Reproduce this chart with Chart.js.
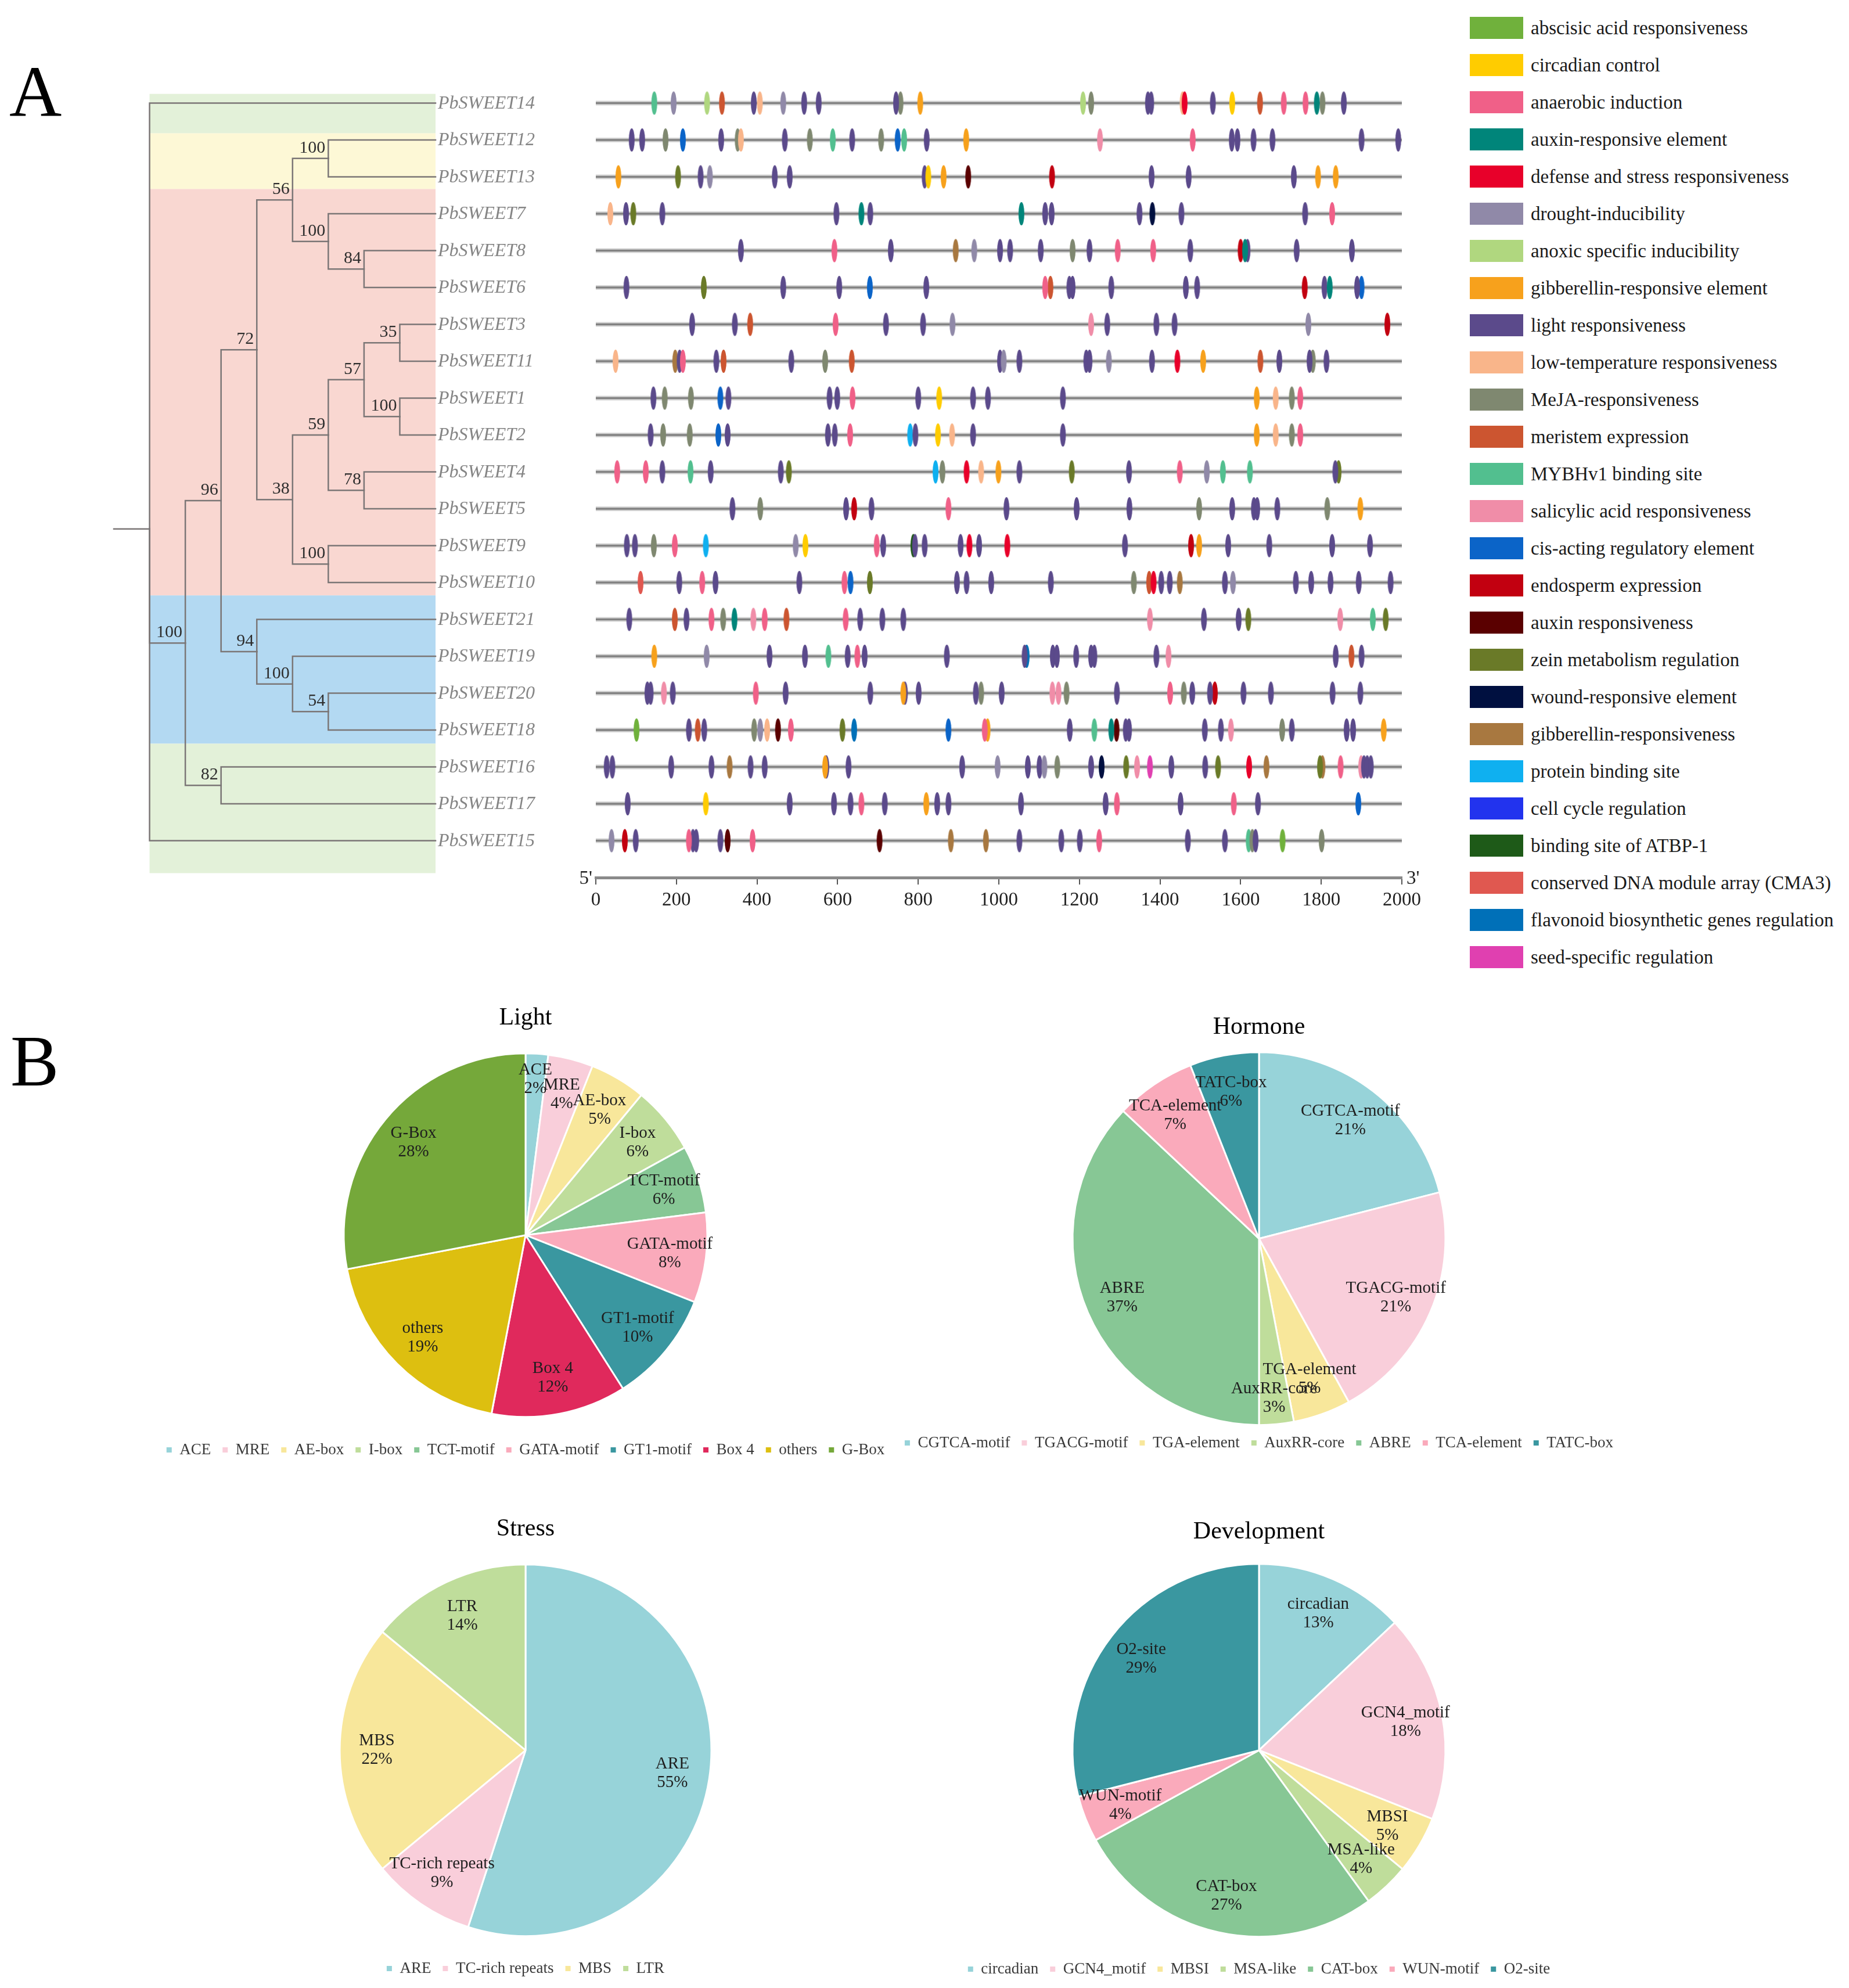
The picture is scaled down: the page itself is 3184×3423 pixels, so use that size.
<!DOCTYPE html>
<html>
<head>
<meta charset="utf-8">
<script src="https://cdn.jsdelivr.net/npm/chart.js@4.4.1/dist/chart.umd.min.js"></script>
<style>
  html, body { margin: 0; padding: 0; background: #fff; }
  #page { position: relative; width: 3184px; height: 3423px; overflow: hidden; background: #fff;
          font-family: "Liberation Serif", "Times New Roman", serif; }
  canvas { position: absolute; }
  .panel { position: absolute; font-size: 125px; line-height: 125px; color: #000; }
  .li { position: absolute; left: 2531px; height: 38px; display: flex; align-items: center; }
  .sw { width: 92px; height: 38px; margin-right: 13px; flex: none; }
  .lt { font-size: 33px; color: #1a1a1a; white-space: nowrap; }
</style>
</head>
<body>
<div id="page">
  <div class="panel" style="left:16px;top:96px">A</div>
  <div class="panel" style="left:18px;top:1765px">B</div>
  <canvas id="tree" width="800" height="1517"></canvas>
  <canvas id="motif" width="1508" height="1517"></canvas>
  <div id="motifLegend"></div>
  <canvas id="pieLight"></canvas>
  <canvas id="pieHormone"></canvas>
  <canvas id="pieStress"></canvas>
  <canvas id="pieDev"></canvas>
</div>
<script>
const SERIF = "Liberation Serif";
Chart.defaults.font.family = SERIF;

// ---- tree (newick with bootstrap values) ----
const treeNewick = "(PbSWEET14,(((((PbSWEET12,PbSWEET13)100,(PbSWEET7,(PbSWEET8,PbSWEET6)84)100)56," +
  "((((PbSWEET3,PbSWEET11)35,(PbSWEET1,PbSWEET2)100)57,(PbSWEET4,PbSWEET5)78)59,(PbSWEET9,PbSWEET10)100)38)72," +
  "(PbSWEET21,(PbSWEET19,(PbSWEET20,PbSWEET18)54)100)94)96,(PbSWEET16,PbSWEET17)82)100,PbSWEET15);";

// ---- motif legend ----
const motifKeys = ["ABA","CIR","ANA","AUXE","DEF","DRO","ANO","GAE","LIG","LTR","MEJA","MER","MYB","SAL",
  "CIS","END","AUX","ZEIN","WOU","GAR","PRO","CCR","ATB","CMA","FLA","SEED"];
const motifNames = ["abscisic acid responsiveness","circadian control","anaerobic induction","auxin-responsive element",
  "defense and stress responsiveness","drought-inducibility","anoxic specific inducibility","gibberellin-responsive element",
  "light responsiveness","low-temperature responsiveness","MeJA-responsiveness","meristem expression","MYBHv1 binding site",
  "salicylic acid responsiveness","cis-acting regulatory element","endosperm expression","auxin responsiveness",
  "zein metabolism regulation","wound-responsive element","gibberellin-responsiveness","protein binding site",
  "cell cycle regulation","binding site of ATBP-1","conserved DNA module array (CMA3)",
  "flavonoid biosynthetic genes regulation","seed-specific regulation"];
const motifColors = ["#70B13C","#FFCC00","#F06088","#00857A","#E8002A","#9089A8","#B0D77F","#F7A11C","#5B4A8B",
  "#F9B58A","#7F8870","#CC5530","#52BF8F","#F08DA8","#0B64C8","#C20010","#5A0000","#6A7A28","#001040","#A87840",
  "#0FB0F0","#2233EE","#1E5A18","#E05850","#0070B8","#E040B0"];

// ---- motif positions per gene (bp from 5' end) ----
const seqLength = 2000;
const sweet14 = [[145,"MYB"],[193,"DRO"],[276,"ANO"],[313,"MER"],[392,"LIG"],[407,"LTR"],[465,"DRO"],[517,"LIG"],[553,"LIG"],[745,"LIG"],[756,"MEJA"],[805,"GAE"],[1209,"ANO"],[1229,"MEJA"],[1370,"LIG"],[1378,"LIG"],[1461,"DEF"],[1456,"LTR"],[1531,"LIG"],[1579,"CIR"],[1648,"MER"],[1707,"ANA"],[1761,"ANA"],[1789,"AUXE"],[1803,"MEJA"],[1856,"LIG"]];
const sweet12 = [[89,"LIG"],[115,"LIG"],[173,"MEJA"],[216,"CIS"],[311,"LIG"],[352,"MEJA"],[360,"LTR"],[469,"LIG"],[531,"MEJA"],[588,"MYB"],[636,"LIG"],[708,"MEJA"],[749,"CIS"],[765,"MYB"],[821,"LIG"],[919,"GAE"],[1251,"SAL"],[1481,"ANA"],[1578,"LIG"],[1592,"LIG"],[1632,"LIG"],[1679,"LIG"],[1900,"LIG"],[1991,"LIG"]];
const sweet13 = [[56,"GAE"],[204,"ZEIN"],[260,"LIG"],[283,"DRO"],[444,"LIG"],[481,"LIG"],[816,"LIG"],[825,"CIR"],[863,"GAE"],[924,"AUX"],[1132,"END"],[1379,"LIG"],[1471,"LIG"],[1732,"LIG"],[1792,"GAE"],[1836,"GAE"]];
const sweet7 = [[36,"LTR"],[75,"LIG"],[93,"ZEIN"],[165,"LIG"],[597,"LIG"],[659,"AUXE"],[681,"LIG"],[1056,"AUXE"],[1115,"LIG"],[1131,"LIG"],[1349,"LIG"],[1381,"WOU"],[1453,"LIG"],[1760,"LIG"],[1827,"ANA"]];
const sweet8 = [[360,"LIG"],[592,"ANA"],[732,"LIG"],[893,"GAR"],[939,"DRO"],[1003,"LIG"],[1028,"LIG"],[1104,"LIG"],[1183,"MEJA"],[1225,"LIG"],[1295,"ANA"],[1383,"ANA"],[1475,"LIG"],[1600,"END"],[1611,"AUXE"],[1617,"LIG"],[1739,"LIG"],[1876,"LIG"]];
const sweet6 = [[76,"LIG"],[268,"ZEIN"],[465,"LIG"],[604,"LIG"],[680,"CIS"],[820,"LIG"],[1115,"ANA"],[1128,"MER"],[1175,"LIG"],[1183,"LIG"],[1279,"LIG"],[1464,"LIG"],[1492,"LIG"],[1759,"END"],[1808,"LIG"],[1821,"AUXE"],[1889,"LIG"],[1900,"CIS"]];
const sweet3 = [[239,"LIG"],[345,"LIG"],[383,"MER"],[595,"ANA"],[720,"LIG"],[812,"LIG"],[885,"DRO"],[1229,"SAL"],[1269,"LIG"],[1391,"LIG"],[1436,"LIG"],[1768,"DRO"],[1964,"END"]];
const sweet11 = [[49,"LTR"],[197,"GAR"],[208,"LIG"],[216,"ANA"],[299,"LIG"],[317,"MER"],[485,"LIG"],[569,"MEJA"],[635,"MER"],[1003,"LIG"],[1012,"DRO"],[1051,"LIG"],[1217,"LIG"],[1225,"LIG"],[1273,"DRO"],[1380,"LIG"],[1443,"DEF"],[1507,"GAE"],[1649,"MER"],[1696,"LIG"],[1771,"LIG"],[1779,"MEJA"],[1813,"LIG"]];
const sweet1 = [[143,"LIG"],[171,"MEJA"],[236,"MEJA"],[309,"CIS"],[329,"LIG"],[580,"LIG"],[599,"LIG"],[637,"ANA"],[800,"LIG"],[852,"CIR"],[936,"LIG"],[973,"LIG"],[1159,"LIG"],[1640,"GAE"],[1687,"LTR"],[1727,"MEJA"],[1748,"ANA"]];
const sweet2 = [[136,"LIG"],[167,"MEJA"],[233,"MEJA"],[304,"CIS"],[327,"LIG"],[576,"LIG"],[593,"LIG"],[631,"ANA"],[780,"PRO"],[793,"LIG"],[849,"CIR"],[884,"LTR"],[936,"LIG"],[1159,"LIG"],[1640,"GAE"],[1687,"LTR"],[1727,"MEJA"],[1748,"ANA"]];
const sweet4 = [[53,"ANA"],[124,"ANA"],[165,"LIG"],[235,"MYB"],[285,"LIG"],[459,"LIG"],[479,"ZEIN"],[843,"PRO"],[860,"MEJA"],[920,"DEF"],[956,"LTR"],[999,"GAE"],[1051,"LIG"],[1181,"ZEIN"],[1323,"LIG"],[1449,"ANA"],[1516,"DRO"],[1556,"MYB"],[1623,"MYB"],[1835,"LIG"],[1843,"ZEIN"]];
const sweet5 = [[339,"LIG"],[408,"MEJA"],[621,"LIG"],[641,"END"],[684,"LIG"],[875,"ANA"],[1019,"LIG"],[1193,"LIG"],[1324,"LIG"],[1497,"MEJA"],[1579,"LIG"],[1633,"LIG"],[1641,"LIG"],[1691,"LIG"],[1815,"MEJA"],[1897,"GAE"]];
const sweet9 = [[77,"LIG"],[97,"LIG"],[144,"MEJA"],[196,"ANA"],[273,"PRO"],[496,"DRO"],[520,"CIR"],[697,"ANA"],[713,"LIG"],[788,"ATB"],[792,"LIG"],[816,"LIG"],[905,"LIG"],[927,"DEF"],[951,"LIG"],[1021,"DEF"],[1313,"LIG"],[1477,"END"],[1497,"GAE"],[1569,"LIG"],[1671,"LIG"],[1827,"LIG"],[1921,"LIG"]];
const sweet10 = [[111,"CMA"],[207,"LIG"],[264,"ANA"],[297,"LIG"],[505,"LIG"],[617,"ANA"],[632,"CIS"],[680,"ZEIN"],[896,"LIG"],[920,"LIG"],[981,"LIG"],[1129,"LIG"],[1335,"MEJA"],[1373,"MER"],[1384,"DEF"],[1403,"LIG"],[1424,"LIG"],[1449,"GAR"],[1561,"LIG"],[1581,"DRO"],[1737,"LIG"],[1775,"LIG"],[1823,"LIG"],[1893,"LIG"],[1972,"LIG"]];
const sweet21 = [[83,"LIG"],[196,"MER"],[225,"LIG"],[287,"ANA"],[316,"MEJA"],[344,"AUXE"],[391,"SAL"],[419,"ANA"],[473,"MER"],[620,"ANA"],[656,"LIG"],[711,"LIG"],[763,"LIG"],[1375,"SAL"],[1509,"LIG"],[1595,"LIG"],[1619,"ZEIN"],[1847,"SAL"],[1928,"MYB"],[1960,"ZEIN"]];
const sweet19 = [[145,"GAE"],[275,"DRO"],[431,"LIG"],[519,"LIG"],[577,"MYB"],[625,"LIG"],[649,"ANA"],[667,"LIG"],[871,"LIG"],[1064,"LIG"],[1069,"FLA"],[1134,"LIG"],[1144,"LIG"],[1192,"LIG"],[1229,"LIG"],[1237,"LIG"],[1391,"LIG"],[1421,"SAL"],[1836,"LIG"],[1875,"MER"],[1900,"LIG"]];
const sweet20 = [[128,"LIG"],[136,"LIG"],[169,"SAL"],[191,"LIG"],[397,"ANA"],[471,"LIG"],[681,"LIG"],[763,"GAE"],[767,"LIG"],[801,"LIG"],[943,"LIG"],[956,"MEJA"],[1007,"LIG"],[1133,"SAL"],[1148,"SAL"],[1168,"MEJA"],[1293,"LIG"],[1425,"ANA"],[1459,"MEJA"],[1480,"LIG"],[1524,"LIG"],[1536,"END"],[1607,"LIG"],[1675,"LIG"],[1828,"LIG"],[1897,"LIG"]];
const sweet18 = [[101,"ABA"],[231,"LIG"],[253,"MER"],[269,"LIG"],[393,"MEJA"],[408,"DRO"],[425,"LTR"],[452,"AUX"],[484,"ANA"],[612,"ZEIN"],[641,"FLA"],[875,"CIS"],[965,"ANA"],[972,"GAE"],[1176,"LIG"],[1237,"MYB"],[1279,"AUXE"],[1292,"AUX"],[1315,"LIG"],[1323,"LIG"],[1511,"LIG"],[1551,"LIG"],[1576,"SAL"],[1703,"MEJA"],[1727,"LIG"],[1863,"LIG"],[1879,"LIG"],[1955,"GAE"]];
const sweet16 = [[27,"LIG"],[41,"LIG"],[187,"LIG"],[287,"LIG"],[332,"GAR"],[384,"LIG"],[419,"LIG"],[569,"GAE"],[572,"LIG"],[627,"LIG"],[909,"LIG"],[997,"DRO"],[1072,"LIG"],[1101,"LIG"],[1113,"DRO"],[1145,"MEJA"],[1229,"LIG"],[1255,"WOU"],[1316,"ZEIN"],[1343,"SAL"],[1375,"SEED"],[1428,"LIG"],[1512,"LIG"],[1544,"ZEIN"],[1621,"DEF"],[1664,"GAR"],[1797,"ZEIN"],[1803,"GAR"],[1848,"ANA"],[1899,"SAL"],[1906,"LIG"],[1914,"LIG"],[1923,"LIG"]];
const sweet17 = [[79,"LIG"],[273,"CIR"],[481,"LIG"],[591,"LIG"],[632,"LIG"],[659,"ANA"],[717,"LIG"],[820,"GAE"],[847,"LIG"],[875,"LIG"],[1055,"LIG"],[1265,"LIG"],[1293,"ANA"],[1451,"LIG"],[1583,"ANA"],[1643,"LIG"],[1892,"CIS"]];
const sweet15 = [[39,"DRO"],[72,"END"],[99,"LIG"],[231,"ANA"],[241,"LIG"],[249,"LIG"],[309,"LIG"],[327,"AUX"],[389,"ANA"],[704,"AUX"],[881,"GAR"],[968,"GAR"],[1051,"LIG"],[1155,"LIG"],[1201,"LIG"],[1249,"ANA"],[1469,"LIG"],[1561,"LIG"],[1620,"MYB"],[1629,"MEJA"],[1637,"LIG"],[1704,"ABA"],[1801,"MEJA"]];
const motifSites = {
  PbSWEET14: sweet14, PbSWEET12: sweet12, PbSWEET13: sweet13, PbSWEET7: sweet7, PbSWEET8: sweet8, PbSWEET6: sweet6,
  PbSWEET3: sweet3, PbSWEET11: sweet11, PbSWEET1: sweet1, PbSWEET2: sweet2, PbSWEET4: sweet4, PbSWEET5: sweet5,
  PbSWEET9: sweet9, PbSWEET10: sweet10, PbSWEET21: sweet21, PbSWEET19: sweet19, PbSWEET20: sweet20,
  PbSWEET18: sweet18, PbSWEET16: sweet16, PbSWEET17: sweet17, PbSWEET15: sweet15
};
const axisTicks = [0, 200, 400, 600, 800, 1000, 1200, 1400, 1600, 1800, 2000];

// ---- pie data (%) ----
const lightLabels = ["ACE","MRE","AE-box","I-box","TCT-motif","GATA-motif","GT1-motif","Box 4","others","G-Box"];
const lightValues = [2, 4, 5, 6, 6, 8, 10, 12, 19, 28];
const hormoneLabels = ["CGTCA-motif","TGACG-motif","TGA-element","AuxRR-core","ABRE","TCA-element","TATC-box"];
const hormoneValues = [21, 21, 5, 3, 37, 7, 6];
const stressLabels = ["ARE","TC-rich repeats","MBS","LTR"];
const stressValues = [55, 9, 22, 14];
const devLabels = ["circadian","GCN4_motif","MBSI","MSA-like","CAT-box","WUN-motif","O2-site"];
const devValues = [13, 18, 5, 4, 27, 4, 29];

// ---- styles ----
const C = { cyan: "#97D3D9", pink: "#F9CEDA", yellow: "#F8E79B", lgreen: "#BFDD9B", green: "#87C795",
            rose: "#FAAABB", teal: "#3A97A0", crimson: "#E0295C", mustard: "#DDBF10", olive: "#75A83A" };
const lightColors = [C.cyan, C.pink, C.yellow, C.lgreen, C.green, C.rose, C.teal, C.crimson, C.mustard, C.olive];
const hormoneColors = [C.cyan, C.pink, C.yellow, C.lgreen, C.green, C.rose, C.teal];
const stressColors = [C.cyan, C.pink, C.yellow, C.lgreen];
const devColors = [C.cyan, C.pink, C.yellow, C.lgreen, C.green, C.rose, C.teal];

const ROW0_Y = 177, ROOT_X = 258, AXIS0_X = 1026;
const LEAF_LEVEL = 8;
const bandEdges = [-0.25, 0.82, 2.33, 13.35, 17.37, 20.88];
const bandColors = ["#E3F1D9", "#FDF8D6", "#F9D7D1", "#B3D9F2", "#E3F1D9"];
const TREE_COL = "#7b7676";

// ---------- tree layout ----------
function parseNewick(s) {
  let i = 0;
  function node() {
    if (s[i] === "(") {
      i++;
      const children = [node()];
      while (s[i] === ",") { i++; children.push(node()); }
      i++;
      let lab = "";
      while (i < s.length && /[0-9.]/.test(s[i])) lab += s[i++];
      return { children, support: lab ? lab : null };
    }
    let name = "";
    while (i < s.length && !/[,();]/.test(s[i])) name += s[i++];
    return { name };
  }
  return node();
}
const root = parseNewick(treeNewick);
const leaves = [];
const internals = [];
function layout(n, depth) {
  if (n.name) { n.x = LEAF_LEVEL; n.y = leaves.length; leaves.push(n); return; }
  n.children.forEach(c => layout(c, depth + 1));
  n.x = depth;
  n.y = n.children.reduce((a, c) => a + c.y, 0) / n.children.length;
  internals.push(n);
}
layout(root, 0);
root.support = null;

const treeSegs = [[{ x: -1, y: root.y }, { x: 0, y: root.y }]];
internals.forEach(n => n.children.forEach(c => {
  treeSegs.push([{ x: n.x, y: n.y }, { x: n.x, y: c.y }, { x: c.x, y: c.y }]);
}));

const treeBands = {
  id: "treeBands",
  beforeDatasetsDraw(c) {
    const { ctx, scales: { x, y } } = c;
    ctx.save();
    bandColors.forEach((col, i) => {
      const y0 = y.getPixelForValue(bandEdges[i]), y1 = y.getPixelForValue(bandEdges[i + 1]);
      ctx.fillStyle = col;
      ctx.fillRect(x.getPixelForValue(0), y0, x.getPixelForValue(LEAF_LEVEL) - x.getPixelForValue(0), y1 - y0);
    });
    ctx.restore();
  }
};
const treeText = {
  id: "treeText",
  afterDatasetsDraw(c) {
    const { ctx, scales: { x, y } } = c;
    ctx.save();
    ctx.font = "italic 32px " + SERIF;
    ctx.fillStyle = "#858585";
    ctx.textAlign = "left";
    ctx.textBaseline = "middle";
    leaves.forEach(l => ctx.fillText(l.name, x.getPixelForValue(l.x) + 4, y.getPixelForValue(l.y) + 1));
    ctx.font = "30px " + SERIF;
    ctx.fillStyle = "#2e2e2e";
    ctx.textAlign = "right";
    ctx.textBaseline = "alphabetic";
    internals.forEach(n => {
      if (n.support) ctx.fillText(n.support, x.getPixelForValue(n.x) - 5, y.getPixelForValue(n.y) - 10);
    });
    ctx.restore();
  }
};

const treeCanvas = document.getElementById("tree");
const treeChart = new Chart(treeCanvas, {
  type: "scatter",
  data: {
    datasets: treeSegs.map(d => ({
      data: d, showLine: true, borderColor: TREE_COL, borderWidth: 2.5, pointRadius: 0,
      borderCapStyle: "square", borderJoinStyle: "miter", clip: false
    }))
  },
  options: {
    responsive: false, animation: false, events: [],
    layout: { padding: { left: 10, right: 236, top: 10, bottom: 110 } },
    scales: {
      x: { type: "linear", min: -1, max: LEAF_LEVEL, display: false },
      y: { type: "linear", min: -1, max: 21, reverse: true, display: false }
    },
    plugins: { legend: { display: false }, tooltip: { enabled: false } }
  },
  plugins: [treeBands, treeText]
});
treeCanvas.style.left = (ROOT_X - treeChart.scales.x.getPixelForValue(0)) + "px";
treeCanvas.style.top = (ROW0_Y - treeChart.scales.y.getPixelForValue(0)) + "px";

// ---------- motif map ----------
function ellipseImg(color) {
  const c = document.createElement("canvas");
  c.width = 12; c.height = 42;
  const g = c.getContext("2d");
  g.fillStyle = color;
  g.beginPath();
  g.ellipse(6, 21, 5, 20, 0, 0, Math.PI * 2);
  g.fill();
  return c;
}
const motifDatasets = [];
leaves.forEach((l, i) => {
  const line = [{ x: 0, y: i }, { x: seqLength, y: i }];
  motifDatasets.push({ data: line, showLine: true, borderColor: "#d3d3d3", borderWidth: 8, pointRadius: 0, order: 3 });
  motifDatasets.push({ data: line, showLine: true, borderColor: "#828282", borderWidth: 3.5, pointRadius: 0, order: 2 });
});
motifKeys.forEach((k, t) => {
  const pts = [];
  leaves.forEach((l, i) => (motifSites[l.name] || []).forEach(([pos, key]) => {
    if (key === k) pts.push({ x: pos, y: i });
  }));
  motifDatasets.push({
    label: motifNames[t], data: pts, pointStyle: ellipseImg(motifColors[t]),
    backgroundColor: motifColors[t], borderColor: motifColors[t], order: 1, clip: false
  });
});
const primeEnds = {
  id: "primeEnds",
  afterDraw(c) {
    const { ctx, scales: { x } } = c;
    ctx.save();
    ctx.font = "33px " + SERIF;
    ctx.fillStyle = "#222";
    ctx.textBaseline = "middle";
    ctx.textAlign = "right";
    ctx.fillText("5'", x.getPixelForValue(0) - 6, x.top + 2);
    ctx.textAlign = "left";
    ctx.fillText("3'", x.getPixelForValue(seqLength) + 8, x.top + 2);
    ctx.restore();
  }
};
const motifCanvas = document.getElementById("motif");
const motifChart = new Chart(motifCanvas, {
  type: "scatter",
  data: { datasets: motifDatasets },
  options: {
    responsive: false, animation: false, events: [],
    layout: { padding: { left: 60, right: 60, top: 10, bottom: 0 } },
    scales: {
      x: {
        type: "linear", min: 0, max: seqLength, position: "bottom",
        afterFit: s => { s.height = 110; },
        afterBuildTicks: s => { s.ticks = axisTicks.map(v => ({ value: v })); },
        ticks: { font: { family: SERIF, size: 33 }, color: "#222", padding: 8, maxRotation: 0, autoSkip: false,
                 callback: v => String(v) },
        grid: { drawOnChartArea: false, drawTicks: true, tickLength: 12, color: "#555", lineWidth: 2 },
        border: { display: true, color: "#8a8a8a", width: 5 }
      },
      y: { type: "linear", min: -1, max: 21, reverse: true, display: false }
    },
    plugins: { legend: { display: false }, tooltip: { enabled: false } }
  },
  plugins: [primeEnds]
});
motifCanvas.style.left = (AXIS0_X - motifChart.scales.x.getPixelForValue(0)) + "px";
motifCanvas.style.top = (ROW0_Y - motifChart.scales.y.getPixelForValue(0)) + "px";

// HTML legend for panel A
const legendBox = document.getElementById("motifLegend");
motifNames.forEach((name, i) => {
  const d = document.createElement("div");
  d.className = "li";
  d.style.top = (48 + i * 64 - 19) + "px";
  d.innerHTML = '<div class="sw" style="background:' + motifColors[i] + '"></div><span class="lt">' + name + "</span>";
  legendBox.appendChild(d);
});

// ---------- pies ----------
const sliceLabels = {
  id: "sliceLabels",
  afterDatasetsDraw(c) {
    const meta = c.getDatasetMeta(0);
    const vals = c.data.datasets[0].data;
    const ctx = c.ctx;
    ctx.save();
    ctx.font = "29px " + SERIF;
    ctx.fillStyle = "#1e1e1e";
    ctx.textAlign = "center";
    ctx.textBaseline = "middle";
    meta.data.forEach((arc, i) => {
      const p = arc.getProps(["x", "y", "startAngle", "endAngle", "outerRadius"], true);
      const a = (p.startAngle + p.endAngle) / 2;
      const f = vals[i] < 4 ? 0.86 : 0.8;
      const px = p.x + Math.cos(a) * p.outerRadius * f;
      const py = p.y + Math.sin(a) * p.outerRadius * f;
      ctx.fillText(c.data.labels[i], px, py - 16);
      ctx.fillText(vals[i] + "%", px, py + 16);
    });
    ctx.restore();
  }
};

function makePie(id, title, labels, values, colors, cx, cy, r, e, pb) {
  const cv = document.getElementById(id);
  cv.width = 1400;
  cv.height = Math.round(50.4 + pb + 2 * r + 2 * e + 57);
  const chart = new Chart(cv, {
    type: "pie",
    data: { labels, datasets: [{ data: values, backgroundColor: colors, borderColor: "#fff", borderWidth: 3, clip: false }] },
    options: {
      responsive: false, animation: false, events: [],
      radius: r,
      plugins: {
        title: { display: true, text: title, color: "#000", font: { family: SERIF, size: 42, weight: "normal" },
                 padding: { top: 0, bottom: pb } },
        legend: {
          position: "bottom",
          labels: {
            usePointStyle: true, pointStyle: "rect", boxWidth: 9, boxHeight: 9, padding: 20,
            color: "#3a3a3a", font: { family: SERIF, size: 27 },
            generateLabels: ch => ch.data.labels.map((t, i) => ({
              text: t, fillStyle: colors[i], strokeStyle: colors[i], lineWidth: 0,
              pointStyle: "rect", hidden: false, index: i, fontColor: "#3a3a3a"
            }))
          }
        },
        tooltip: { enabled: false }
      }
    },
    plugins: [sliceLabels]
  });
  const ca = chart.chartArea;
  cv.style.left = (cx - (ca.left + ca.right) / 2) + "px";
  cv.style.top = (cy - (ca.top + ca.bottom) / 2) + "px";
  return chart;
}
makePie("pieLight", "Light", lightLabels, lightValues, lightColors, 905, 2127, 313, 23.5, 12);
makePie("pieHormone", "Hormone", hormoneLabels, hormoneValues, hormoneColors, 2168, 2133, 321, -2.5, 20);
makePie("pieStress", "Stress", stressLabels, stressValues, stressColors, 905, 3014, 320, 22.5, 13);
makePie("pieDev", "Development", devLabels, devValues, devColors, 2168, 3014, 321, 22.5, 7);
</script>
</body>
</html>
